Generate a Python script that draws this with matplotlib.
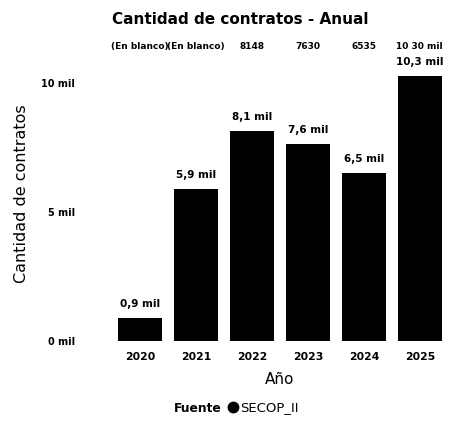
import matplotlib
matplotlib.use("Agg")
import matplotlib.pyplot as plt
from matplotlib.lines import Line2D

years = ["2020", "2021", "2022", "2023", "2024", "2025"]
contratos = [880, 5910, 8148, 7630, 6535, 10300]
header_labels = ["(En blanco)", "(En blanco)", "8148", "7630", "6535", "10 30 mil"]
ytick_vals = [0, 5000, 10000]
ytick_labels = ["0 mil", "5 mil", "10 mil"]

plt.rcParams['font.family'] = ['DejaVu Sans']

fig = plt.figure(figsize=(4.65, 4.23), dpi=100)
W, H = 465, 423
left, right, bottom, top = 100, 460, 341, 68
ax = fig.add_axes([left / W, 1 - bottom / H, (right - left) / W, (bottom - top) / H])

x = list(range(len(years)))
bars = ax.bar(x, contratos, width=0.78, color="black")
ax.set_xlim(-0.72, 5.72)
ax.set_ylim(0, 10600)

for xi, v in zip(x, contratos):
    lbl = f"{v/1000:.1f}".replace(".", ",") + " mil"
    ax.text(xi, v + 350, lbl, ha="center", va="bottom", fontsize=7.5, fontweight="bold")

for xi, t in zip(x, header_labels):
    ax.text(xi, 1.077, t, transform=ax.get_xaxis_transform(), ha="center", va="center",
            fontsize=6.5, fontweight="bold")

ax.set_yticks(ytick_vals)
ax.set_yticklabels(ytick_labels, fontsize=7, fontweight="bold")
ax.set_xticks(x)
ax.set_xticklabels(years, fontsize=7.8, fontweight="bold")
ax.tick_params(length=0, pad=8)
ax.tick_params(axis="y", pad=18)
for s in ax.spines.values():
    s.set_visible(False)

ax.set_xlabel("Año", fontsize=11, labelpad=7)
fig.text(22 / W, 1 - 194 / H, "Cantidad de contratos", rotation=90, ha="center", va="center",
         fontsize=11.5)
fig.text(240 / W, 1 - 20 / H, "Cantidad de contratos - Anual", ha="center", va="center",
         fontsize=11, fontweight="bold")

fig.text(222 / W, 1 - 408 / H, "Fuente", ha="right", va="center", fontsize=8.8, fontweight="bold")
handle = Line2D([], [], marker="o", color="black", linestyle="none", markersize=7.5)
fig.legend([handle], ["SECOP_II"], loc="center left", bbox_to_anchor=(226 / W, 1 - 408 / H),
           frameon=False, fontsize=9.5, handletextpad=0.05, handlelength=1.0, borderpad=0,
           borderaxespad=0)

fig.savefig("out.png", dpi=100, facecolor="white")
